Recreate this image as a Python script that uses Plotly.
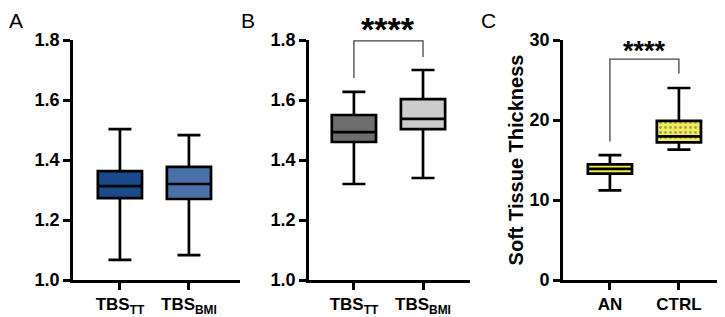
import plotly.graph_objects as go

# ---- data ----
cats_ab = ["<b>TBS<sub>TT</sub></b>", "<b>TBS<sub>BMI</sub></b>"]
cats_c = ["<b>AN</b>", "<b>CTRL</b>"]

# [min, q1, median, q3, max]
a_tt = [1.067, 1.273, 1.313, 1.363, 1.503]
a_bmi = [1.083, 1.270, 1.320, 1.377, 1.483]
b_tt = [1.320, 1.460, 1.493, 1.550, 1.627]
b_bmi = [1.340, 1.503, 1.537, 1.603, 1.700]
c_an = [11.2, 13.3, 13.9, 14.45, 15.6]
c_ctrl = [16.3, 17.2, 17.95, 19.9, 24.0]

yticks_ab = [1.0, 1.2, 1.4, 1.6, 1.8]
yticks_c = [0, 10, 20, 30]

# significance brackets: (left leg bottom, top, right leg bottom)
brk_b = [1.673, 1.797, 1.743]
brk_c = [17.3, 27.6, 25.8]
sig_label = "****"
panel_labels = ["A", "B", "C"]

col_a = ["#1B4A8B", "#4A70A8"]
col_b = ["#6E6E6E", "#CDCDCD"]
col_c = "#F2EE5A"

FONT = "Liberation Sans, Arial, sans-serif"
# the page body has an 8px margin, so the figure is drawn 8px in from the corner
OFF = 8
W, H = 725 - OFF, 317 - OFF


def px(x):
    return max(0.0, (x - OFF) / W)


fig = go.Figure()

BW = 0.64
LW = 2.7


def add_box(stats, cat, color, xa, ya, fill=True):
    fig.add_trace(go.Box(
        x=[cat], lowerfence=[stats[0]], q1=[stats[1]], median=[stats[2]],
        q3=[stats[3]], upperfence=[stats[4]],
        fillcolor=color if fill else "rgba(0,0,0,0)",
        line=dict(color="black", width=LW), width=BW, whiskerwidth=0.52,
        boxpoints=False, xaxis=xa, yaxis=ya, showlegend=False, hoverinfo="skip"))


add_box(a_tt, cats_ab[0], col_a[0], "x", "y")
add_box(a_bmi, cats_ab[1], col_a[1], "x", "y")
add_box(b_tt, cats_ab[0], col_b[0], "x2", "y2")
add_box(b_bmi, cats_ab[1], col_b[1], "x2", "y2")
add_box(c_an, cats_c[0], col_c, "x3", "y3")
# dotted fill for CTRL (bar underneath a transparent box)
fig.add_trace(go.Bar(
    x=[cats_c[1]], y=[c_ctrl[3] - c_ctrl[1]], base=[c_ctrl[1]], width=BW,
    marker=dict(color=col_c, line=dict(width=0),
                pattern=dict(shape=".", fgcolor="#555555", bgcolor=col_c, size=5, solidity=0.25)),
    xaxis="x3", yaxis="y3", showlegend=False, hoverinfo="skip"))
add_box(c_ctrl, cats_c[1], col_c, "x3", "y3", fill=False)

axis_common = dict(showline=True, linecolor="black", linewidth=LW, ticks="outside",
                   ticklen=7, tickwidth=LW, tickcolor="black", showgrid=False, zeroline=False)
xfont = dict(family=FONT, size=17, color="black")
yfont = dict(family=FONT, size=18, color="black")

fig.update_layout(
    width=W, height=H, margin=dict(l=0, r=0, t=40 - OFF, b=H - (280 - OFF)),
    plot_bgcolor="white", paper_bgcolor="white", barmode="overlay",
    xaxis=dict(domain=[px(73), px(240)], range=[-0.68, 1.74], type="category", anchor="y",
               tickfont=xfont, **axis_common),
    yaxis=dict(domain=[0, 1], range=[1.0, 1.8], anchor="x", tickvals=yticks_ab,
               ticktext=["<b>%.1f</b>" % v for v in yticks_ab], tickfont=yfont, **axis_common),
    xaxis2=dict(domain=[px(309), px(470)], range=[-0.65, 1.68], type="category", anchor="y2",
                tickfont=xfont, **axis_common),
    yaxis2=dict(domain=[0, 1], range=[1.0, 1.8], anchor="x2", tickvals=yticks_ab,
                ticktext=["<b>%.1f</b>" % v for v in yticks_ab], tickfont=yfont, **axis_common),
    xaxis3=dict(domain=[px(563), px(721)], range=[-0.68, 1.61], type="category", anchor="y3",
                tickfont=xfont, **axis_common),
    yaxis3=dict(domain=[0, 1], range=[0, 30], anchor="x3", tickvals=yticks_c,
                ticktext=["<b>%d</b>" % v for v in yticks_c], tickfont=yfont,
                title=dict(text="<b>Soft Tissue Thickness</b>", font=dict(size=20, family=FONT, color="black"),
                           standoff=1),
                **axis_common),
    font=dict(family=FONT, color="black"),
)


def bracket(xa, ya, brk, size, dy):
    fig.add_shape(type="path", xref=xa, yref=ya,
                  path="M 0 %f L 0 %f L 1 %f L 1 %f" % (brk[0], brk[1], brk[1], brk[2]),
                  line=dict(color="#444444", width=1.3))
    fig.add_annotation(x=0.5, y=brk[1], xref=xa, yref=ya, text="<b>%s</b>" % sig_label,
                       showarrow=False, yanchor="bottom", yshift=dy,
                       font=dict(size=size, color="black", family=FONT))


bracket("x2", "y2", brk_b, 34, -9)
bracket("x3", "y3", brk_c, 27, -9)

for txt, xp in zip(panel_labels, [8, 240, 480]):
    fig.add_annotation(x=px(xp), y=1.0, xref="paper", yref="paper", yanchor="top", xanchor="left",
                       yshift=40 - OFF, text=txt, showarrow=False, borderpad=0,
                       font=dict(size=21, color="black", family=FONT))

fig.write_html("out.html")
